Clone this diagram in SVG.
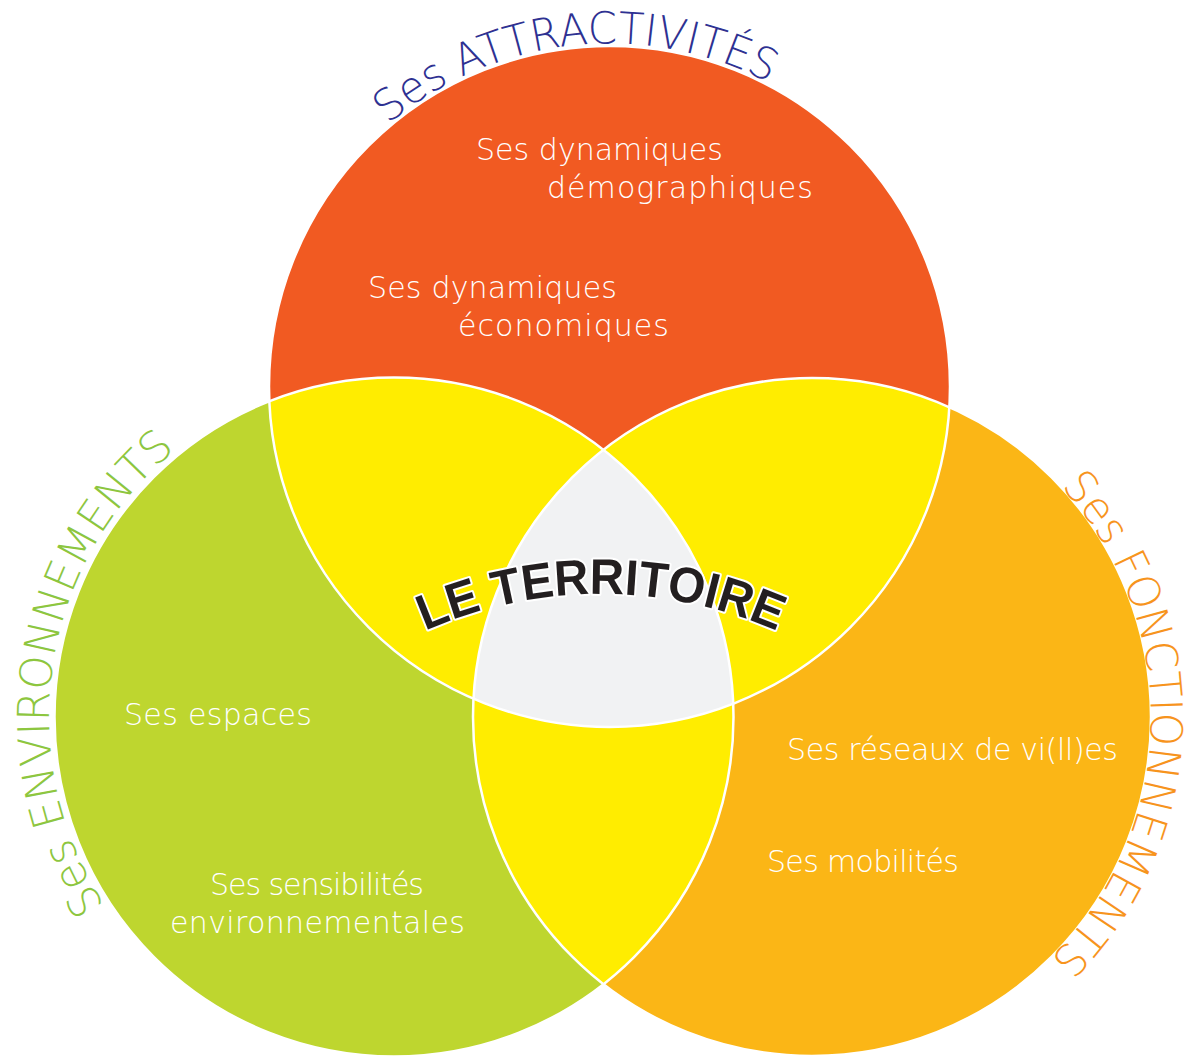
<svg xmlns="http://www.w3.org/2000/svg" width="1187" height="1059" viewBox="0 0 1187 1059">
  <style>
    .body { font-family: "DejaVu Sans", "Open Sans", sans-serif; font-weight: 200; font-size: 30px; fill: #ffffff; }
    .arc { font-family: "DejaVu Sans", "Open Sans", sans-serif; font-weight: 200; font-size: 44px; }
    .outline { fill: none; stroke: #ffffff; stroke-width: 2.5; }
    .title { font-family: "Liberation Sans", Arial, sans-serif; font-weight: bold; font-size: 50px; fill: #231F20; stroke: #ffffff; stroke-width: 4; paint-order: stroke fill; stroke-linejoin: round; }
  </style>
  <defs>
    <clipPath id="clipTop"><circle cx="609.5" cy="386.5" r="340.5"/></clipPath>
    <clipPath id="clipLeft"><circle cx="394" cy="717" r="339.5"/></clipPath>
    <clipPath id="clipRight"><circle cx="812" cy="717" r="339"/></clipPath>
    <path id="pTop" d="M346.0,166.9 A343,343 0 0 1 819.2,115.1"/>
    <path id="pLeft" d="M142.1,952.7 A345,345 0 0 1 225.7,415.8"/>
    <path id="pRight" d="M1017.0,447.0 A339,339 0 0 1 1004.5,996.0"/>
    <path id="pCenter" d="M358.6,667.4 A437,437 0 0 1 844.1,667.9"/>
  </defs>

  <g id="circle-attractivites">
    <circle cx="609.5" cy="386.5" r="340.5" fill="#F15A22"/>
  </g>
  <g id="circle-environnements">
    <circle cx="394" cy="717" r="339.5" fill="#BED62F"/>
  </g>
  <g id="circle-fonctionnements">
    <circle cx="812" cy="717" r="339" fill="#FBB616"/>
  </g>
  <g id="overlaps">
    <circle cx="394" cy="717" r="339.5" fill="#FFED00" clip-path="url(#clipTop)"/>
    <circle cx="812" cy="717" r="339" fill="#FFED00" clip-path="url(#clipTop)"/>
    <circle cx="812" cy="717" r="339" fill="#FFED00" clip-path="url(#clipLeft)"/>
  </g>
  <g id="le-territoire">
    <g clip-path="url(#clipTop)">
      <circle cx="812" cy="717" r="339" fill="#F1F2F3" clip-path="url(#clipLeft)"/>
    </g>
  </g>
  <g id="outlines">
    <circle class="outline" cx="609.5" cy="386.5" r="340.5"/>
    <circle class="outline" cx="394" cy="717" r="339.5"/>
    <circle class="outline" cx="812" cy="717" r="339"/>
  </g>
  <g id="connectors"/>

  <g id="label-attractivites">
    <text class="arc" fill="#2E3192"><textPath href="#pTop" startOffset="60" textLength="406" lengthAdjust="spacingAndGlyphs">Ses ATTRACTIVITÉS</textPath></text>
    <text class="body" x="476" y="160" textLength="247">Ses dynamiques</text>
    <text class="body" x="547" y="198" textLength="266">démographiques</text>
    <text class="body" x="368" y="298" textLength="249">Ses dynamiques</text>
    <text class="body" x="458" y="336" textLength="211">économiques</text>
  </g>
  <g id="label-environnements">
    <text class="arc" fill="#8DC63F"><textPath href="#pLeft" startOffset="60" textLength="505" lengthAdjust="spacingAndGlyphs">Ses ENVIRONNEMENTS</textPath></text>
    <text class="body" x="124" y="725" textLength="188">Ses espaces</text>
    <text class="body" x="210" y="895" textLength="214">Ses sensibilités</text>
    <text class="body" x="170" y="933" textLength="295">environnementales</text>
  </g>
  <g id="label-fonctionnements">
    <text class="arc" fill="#F7941D"><textPath href="#pRight" startOffset="59" textLength="522" lengthAdjust="spacingAndGlyphs">Ses FONCTIONNEMENTS</textPath></text>
    <text class="body" x="787" y="760" textLength="331">Ses réseaux de vi(ll)es</text>
    <text class="body" x="767" y="872" textLength="192">Ses mobilités</text>
  </g>
  <g id="label-territoire">
    <text class="title"><textPath href="#pCenter" startOffset="76" textLength="362" lengthAdjust="spacingAndGlyphs">LE TERRITOIRE</textPath></text>
  </g>
</svg>
